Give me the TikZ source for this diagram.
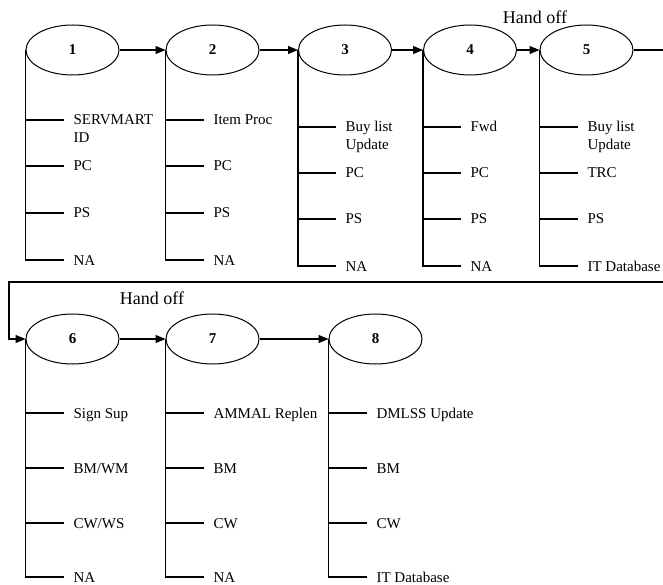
\documentclass[tikz,border=0pt]{standalone}
\usepackage{fontspec}
\setmainfont{Liberation Serif}
\usetikzlibrary{arrows.meta,shapes.geometric}
\begin{document}
\begin{tikzpicture}[x=1pt,y=-1pt,
  line width=1.1pt,
  stepnode/.style={draw, ellipse, minimum width=93pt, minimum height=50pt, inner sep=0pt,
    font=\fontsize{15}{18}\selectfont\bfseries, line width=1pt},
  lab/.style={anchor=west, inner xsep=9pt, inner ysep=0pt, text height=10pt, text depth=0pt,
    font=\fontsize{15}{18}\selectfont},
  arr/.style={-{Triangle[length=10pt,width=8pt]}},
  hand/.style={font=\fontsize{18}{20}\selectfont, inner sep=0pt}
]
\useasboundingbox[fill=white] (0,0) rectangle (663,585);

% ellipses
\node[stepnode] (e1) at (72.5,50) {1};
\node[stepnode] (e2) at (212.5,50) {2};
\node[stepnode] (e3) at (345,50) {3};
\node[stepnode] (e4) at (470,50) {4};
\node[stepnode] (e5) at (586.5,50) {5};
\node[stepnode] (e6) at (72.5,339) {6};
\node[stepnode] (e7) at (212.5,339) {7};
\node[stepnode] (e8) at (375.5,339) {8};

\node[hand] (h1) at (535,17) {Hand off};
\node[hand] (h2) at (152,298) {Hand off};

% labels column 1
\node[lab] (l1a) at (64,120) {\vtop{\hbox{SERVMART}\hbox{ID}}};
\node[lab] (l1b) at (64,166) {PC};
\node[lab] (l1c) at (64,213) {PS};
\node[lab] (l1d) at (64,260) {NA};
% column 2
\node[lab] (l2a) at (204,120) {Item Proc};
\node[lab] (l2b) at (204,166) {PC};
\node[lab] (l2c) at (204,213) {PS};
\node[lab] (l2d) at (204,260) {NA};
% column 3
\node[lab] (l3a) at (336,127) {\vtop{\hbox{Buy list}\hbox{Update}}};
\node[lab] (l3b) at (336,173) {PC};
\node[lab] (l3c) at (336,219) {PS};
\node[lab] (l3d) at (336,266) {NA};
% column 4
\node[lab] (l4a) at (461,127) {Fwd};
\node[lab] (l4b) at (461,173) {PC};
\node[lab] (l4c) at (461,219) {PS};
\node[lab] (l4d) at (461,266) {NA};
% column 5
\node[lab] (l5a) at (578,127) {\vtop{\hbox{Buy list}\hbox{Update}}};
\node[lab] (l5b) at (578,173) {TRC};
\node[lab] (l5c) at (578,219) {PS};
\node[lab] (l5d) at (578,266) {IT Database};
% column 6
\node[lab] (l6a) at (64,413) {Sign Sup};
\node[lab] (l6b) at (64,468) {BM/WM};
\node[lab] (l6c) at (64,523) {CW/WS};
\node[lab] (l6d) at (64,577) {NA};
% column 7
\node[lab] (l7a) at (204,413) {AMMAL Replen};
\node[lab] (l7b) at (204,468) {BM};
\node[lab] (l7c) at (204,523) {CW};
\node[lab] (l7d) at (204,577) {NA};
% column 8
\node[lab] (l8a) at (367,413) {DMLSS Update};
\node[lab] (l8b) at (367,468) {BM};
\node[lab] (l8c) at (367,523) {CW};
\node[lab] (l8d) at (367,577) {IT Database};

% trees
\foreach \c in {1,...,8}{
  \draw (e\c.west) |- (l\c d.west);
  \foreach \r in {a,b,c}{
    \draw (e\c.west |- l\c\r.west) -- (l\c\r.west);
  }
}

% arrows
\draw[arr] (e1.east) -- (e2.west);
\draw[arr] (e2.east) -- (e3.west);
\draw[arr] (e3.east) -- (e4.west);
\draw[arr] (e4.east) -- (e5.west);
\draw[arr] (e6.east) -- (e7.west);
\draw[arr] (e7.east) -- (e8.west);

\coordinate (r1) at (666,282);
\coordinate (r2) at (9,282);
\draw[arr] (e5.east) -| (r1) -- (r2) |- (e6.west);
\end{tikzpicture}
\end{document}
